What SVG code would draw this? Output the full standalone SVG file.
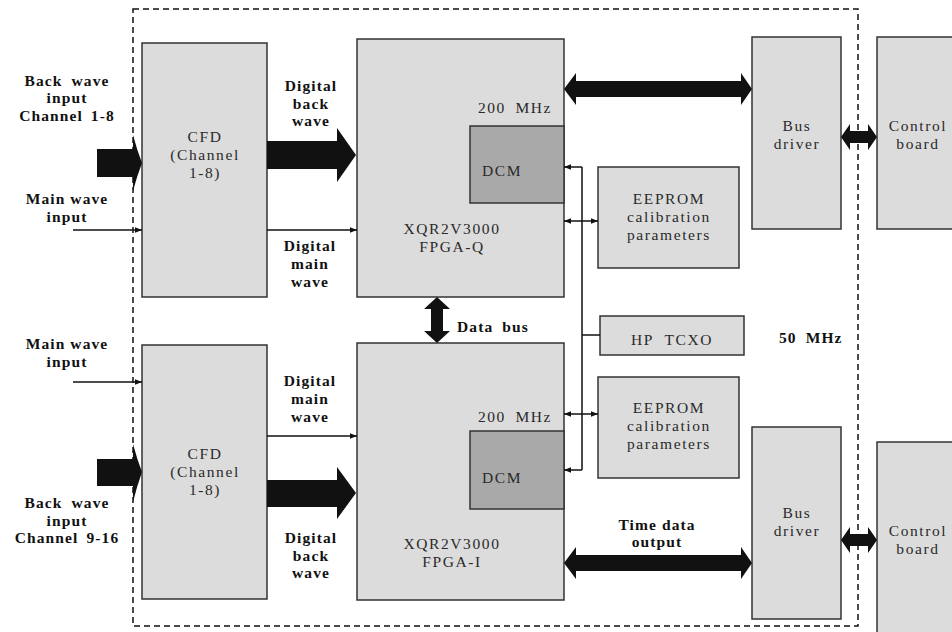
<svg xmlns="http://www.w3.org/2000/svg" width="952" height="632" viewBox="0 0 952 632">
<style>
.box{fill:#dcdcdc;stroke:#333;stroke-width:1.5}
.dcm{fill:#a9a9a9;stroke:#333;stroke-width:1.5}
.t{font-family:"Liberation Serif","Times New Roman",serif;font-size:15.5px;fill:#2a2a2a;text-anchor:middle;letter-spacing:1.6px}
.b{font-family:"Liberation Serif","Times New Roman",serif;font-size:15.5px;font-weight:bold;fill:#111;text-anchor:middle;letter-spacing:1.1px}
.s{font-family:"Liberation Serif","Times New Roman",serif;font-size:15.5px;font-weight:bold;fill:#111;letter-spacing:1.1px}
.ln{stroke:#111;stroke-width:1.5;fill:none}
.big{fill:#111}
</style>
<defs>
<marker id="ah" viewBox="0 0 10 10" refX="10" refY="5" markerWidth="7" markerHeight="7" markerUnits="userSpaceOnUse" orient="auto-start-reverse">
<path d="M0,1 L10,5 L0,9 Z" fill="#111"/>
</marker>
</defs>
<rect x="133" y="9" width="725" height="617" fill="none" stroke="#111" stroke-width="1.5" stroke-dasharray="6 4"/>

<g id="cfd-top"><rect class="box" x="142" y="43" width="125" height="254"/>
<text class="t" x="205" y="142">CFD</text><text class="t" x="205" y="160">(Channel</text><text class="t" x="205" y="178">1-8)</text></g>
<g id="cfd-bottom"><rect class="box" x="142" y="345" width="125" height="254"/>
<text class="t" x="205" y="459">CFD</text><text class="t" x="205" y="477">(Channel</text><text class="t" x="205" y="495">1-8)</text></g>

<g id="fpga-q"><rect class="box" x="357" y="39" width="207" height="258"/>
<text class="t" x="515" y="113" style="word-spacing:4px">200 MHz</text>
<text class="t" x="452" y="234">XQR2V3000</text><text class="t" x="452" y="252">FPGA-Q</text></g>
<g id="dcm-q"><rect class="dcm" x="470" y="126" width="94" height="77"/><text class="t" x="502" y="176">DCM</text></g>

<g id="fpga-i"><rect class="box" x="357" y="343" width="207" height="257"/>
<text class="t" x="515" y="422" style="word-spacing:4px">200 MHz</text>
<text class="t" x="452" y="549">XQR2V3000</text><text class="t" x="452" y="567">FPGA-I</text></g>
<g id="dcm-i"><rect class="dcm" x="470" y="431" width="94" height="78"/><text class="t" x="502" y="483">DCM</text></g>

<g id="eeprom-top"><rect class="box" x="598" y="167" width="141" height="101"/>
<text class="t" x="669" y="204">EEPROM</text><text class="t" x="669" y="222">calibration</text><text class="t" x="669" y="240">parameters</text></g>
<g id="hp-tcxo"><rect class="box" x="600" y="316" width="144" height="39"/>
<text class="t" x="672" y="345" style="word-spacing:6px">HP TCXO</text></g>
<g id="eeprom-bottom"><rect class="box" x="598" y="377" width="141" height="101"/>
<text class="t" x="669" y="413">EEPROM</text><text class="t" x="669" y="431">calibration</text><text class="t" x="669" y="449">parameters</text></g>

<g id="bus-driver-top"><rect class="box" x="752" y="37" width="89" height="192"/>
<text class="t" x="797" y="131">Bus</text><text class="t" x="797" y="149">driver</text></g>
<g id="bus-driver-bottom"><rect class="box" x="752" y="427" width="89" height="192"/>
<text class="t" x="797" y="518">Bus</text><text class="t" x="797" y="536">driver</text></g>

<g id="control-board-top"><rect class="box" x="877" y="37" width="90" height="192"/>
<text class="t" x="918" y="131">Control</text><text class="t" x="918" y="149">board</text></g>
<g id="control-board-bottom"><rect class="box" x="877" y="442" width="90" height="200"/>
<text class="t" x="918" y="536">Control</text><text class="t" x="918" y="554">board</text></g>

<g id="labels">
<text class="b" x="67" y="86" style="word-spacing:4px">Back wave</text><text class="b" x="67" y="103">input</text><text class="b" x="67" y="121" style="word-spacing:3px">Channel 1-8</text>
<text class="b" x="67" y="204">Main wave</text><text class="b" x="67" y="222">input</text>
<text class="b" x="311" y="91">Digital</text><text class="b" x="311" y="109">back</text><text class="b" x="311" y="126">wave</text>
<text class="b" x="310" y="251">Digital</text><text class="b" x="310" y="269">main</text><text class="b" x="310" y="287">wave</text>
<text class="s" x="457" y="332" style="word-spacing:4px">Data bus</text>
<text class="s" x="779" y="343" style="word-spacing:4px">50 MHz</text>
<text class="b" x="67" y="349">Main wave</text><text class="b" x="67" y="367">input</text>
<text class="b" x="310" y="386">Digital</text><text class="b" x="310" y="404">main</text><text class="b" x="310" y="422">wave</text>
<text class="b" x="67" y="508" style="word-spacing:4px">Back wave</text><text class="b" x="67" y="526">input</text><text class="b" x="67" y="543" style="word-spacing:3px">Channel 9-16</text>
<text class="b" x="311" y="543">Digital</text><text class="b" x="311" y="561">back</text><text class="b" x="311" y="578">wave</text>
<text class="b" x="657" y="530">Time data</text><text class="b" x="657" y="547">output</text>
</g>

<g id="connectors">
<path class="big" d="M97,149 H133 V135 Q137,150 142,163 Q137,176 133,191 V177 H97 Z"/>
<path class="big" d="M97,459 H133 V444 Q137,459 142,472 Q137,486 133,502 V486 H97 Z"/>
<path class="big" d="M267,141 H337 V128 L356,155 L337,182 V169 H267 Z"/>
<path class="big" d="M267,480 H337 V467 L356,493 L337,519 V507 H267 Z"/>
<path class="big" d="M564,89 L576,73 V81 H741 V73 L752,89 L741,105 V97 H576 V105 Z"/>
<path class="big" d="M564,563 L576,547 V555 H741 V547 L752,563 L741,579 V571 H576 V579 Z"/>
<path class="big" d="M841,137 L850,124 V131 H868 V124 L877,137 L868,150 V143 H850 V150 Z"/>
<path class="big" d="M841,540 L850,527 V534 H868 V527 L877,540 L868,553 V546 H850 V553 Z"/>
<path class="big" d="M437,297 L450,309 H443 V331 H450 L437,343 L424,331 H431 V309 H424 Z"/>
<line class="ln" x1="73" y1="230" x2="142" y2="230" marker-end="url(#ah)"/>
<line class="ln" x1="267" y1="230" x2="357" y2="230" marker-end="url(#ah)"/>
<line class="ln" x1="73" y1="382" x2="142" y2="382" marker-end="url(#ah)"/>
<line class="ln" x1="267" y1="436" x2="357" y2="436" marker-end="url(#ah)"/>
<line class="ln" x1="582" y1="167" x2="582" y2="470"/>
<line class="ln" x1="582" y1="167" x2="564" y2="167" marker-end="url(#ah)"/>
<line class="ln" x1="582" y1="470" x2="564" y2="470" marker-end="url(#ah)"/>
<line class="ln" x1="582" y1="335" x2="600" y2="335"/>
<line class="ln" x1="564" y1="221" x2="598" y2="221" marker-start="url(#ah)" marker-end="url(#ah)"/>
<line class="ln" x1="564" y1="414" x2="598" y2="414" marker-start="url(#ah)" marker-end="url(#ah)"/>
</g>
</svg>
